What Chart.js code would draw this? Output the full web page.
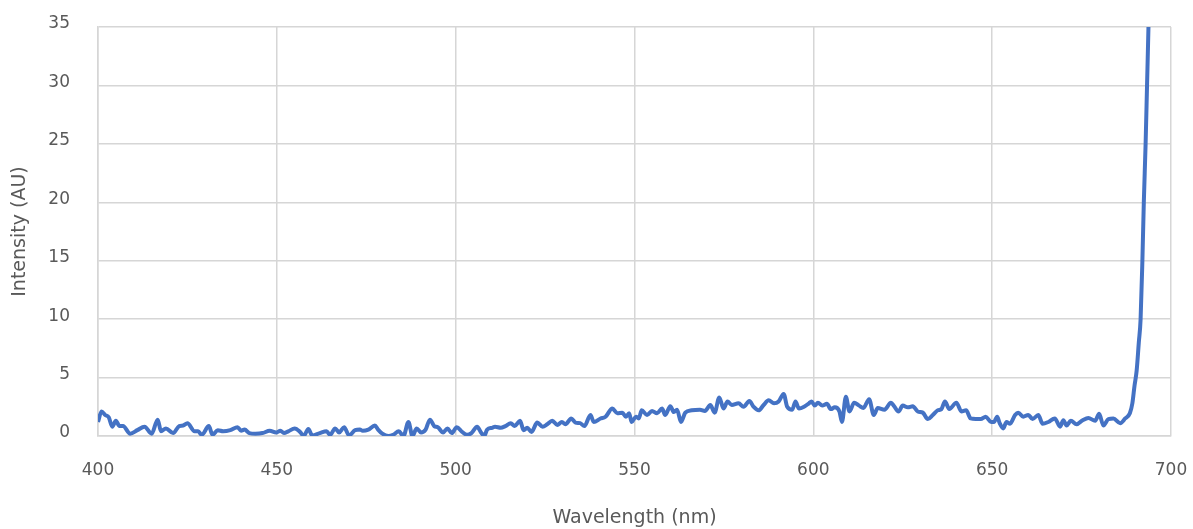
<!DOCTYPE html>
<html lang="en">
<head>
    <meta charset="UTF-8">
    <title>Intensity vs Wavelength</title>
    <script src="https://cdn.jsdelivr.net/npm/chart.js"></script>
    <style>
        html, body { margin: 0; padding: 0; background: #fff; }
        #wrap { width: 1193px; height: 529px; }
    </style>
</head>
<body>
<div id="wrap"><canvas id="chart" width="1193" height="529"></canvas></div>
<script>
// spectrum (nm / AU)
const wavelengths = [
    400, 401, 402, 403, 404, 405, 406, 407, 409, 411, 413, 415, 416.7, 417.6, 419, 421, 422.7, 423.8, 425, 427, 428, 429, 431, 432, 433.5, 435, 437, 439, 440, 441, 442.3, 444, 446, 448, 449.8,
    451, 452, 453.2, 455, 456.5, 457.5, 458.8, 459.9, 462, 463.9, 464.9, 466.3, 467.4, 468.8, 470.2, 471.9, 473.2, 474, 475.6, 477.4, 478.3, 479.5, 481.2, 482.5, 484.1, 485.4, 486.8, 487.9, 489.1, 490.3, 491.6, 492.8, 494, 495, 496.5, 497.7, 498.9, 500.3,
    501.8, 503.2, 504.4, 506, 507, 508, 508.8, 510.2, 511, 512.6, 513.9, 515.4, 516.5, 518, 519, 520, 521.2, 522.8, 524.3, 525.6, 527, 528.4, 529.7, 530.7, 532.3, 533.5, 534.8, 536, 537.7, 538.6, 540.5, 541.9, 543.8, 545.2, 546.6, 547.6, 548.5, 549.2, 550.4,
    551.2, 552, 553.5, 554.9, 556.3, 557.7, 558.6, 560, 561, 561.9, 563, 564.2, 566, 568.3, 569.7, 571.2, 572.4, 573.7, 574.9, 576, 577.2, 579.1, 580.5, 582.1, 583.3, 584.7, 586.1, 587.5, 589, 590.3, 591.7, 592.7, 594.1, 595, 596, 597.4, 598.8, 599.5,
    600.4, 601.3, 602.5, 603.8, 604.9, 606, 607.3, 608, 609.1, 610.1, 611.4, 612.8, 614, 615.6, 616.9, 618, 619.9, 621.7, 622.6, 623.8, 625, 626.4, 627.8, 629.2, 630.6, 632, 633.4, 634.8, 635.8, 636.8, 638, 640, 641.4, 642.7, 644, 645.4, 646.8, 648.2, 649.7,
    650.5, 651.4, 652.1, 653.1, 654, 655, 656.4, 657.3, 658.7, 660.1, 661.3, 662.9, 664.1, 665.7, 667.5, 669, 669.9, 670.8, 672, 673.6, 675.3, 676.9, 678.8, 679.9, 681.1, 682.5, 683.9, 685.8, 687.2, 688.5, 689.2, 689.8, 690.4, 691, 691.5, 692, 692.4, 692.9, 693.3, 693.7, 694.2, 695
];
const intensity = [
    1.2, 2.1, 1.8, 1.6, 0.8, 1.3, 0.85, 0.85, 0.2, 0.5, 0.8, 0.2, 1.4, 0.4, 0.65, 0.25, 0.85, 0.9, 1.1, 0.4, 0.4, 0.1, 0.85, 0.1, 0.5, 0.4, 0.5, 0.75, 0.45, 0.55, 0.25, 0.2, 0.25, 0.45, 0.3,
    0.45, 0.25, 0.4, 0.65, 0.35, 0.0, 0.6, 0.05, 0.25, 0.4, 0.1, 0.65, 0.3, 0.75, 0.05, 0.5, 0.55, 0.45, 0.55, 0.9, 0.55, 0.2, 0.0, 0.1, 0.4, 0.0, 1.2, 0.0, 0.65, 0.3, 0.55, 1.4, 0.85, 0.75, 0.3, 0.65, 0.25, 0.75,
    0.35, 0.1, 0.25, 0.8, 0.35, 0.0, 0.55, 0.7, 0.8, 0.7, 0.85, 1.1, 0.85, 1.3, 0.5, 0.7, 0.35, 1.15, 0.8, 1.0, 1.3, 0.95, 1.2, 1.0, 1.5, 1.15, 1.1, 0.85, 1.8, 1.2, 1.5, 1.65, 2.35, 1.95, 2.0, 1.65, 1.95, 1.2, 1.65,
    1.5, 2.2, 1.8, 2.15, 1.95, 2.35, 1.8, 2.55, 2.05, 2.25, 1.2, 2.0, 2.2, 2.25, 2.15, 2.65, 2.0, 3.3, 2.35, 2.95, 2.65, 2.8, 2.5, 3.0, 2.5, 2.2, 2.65, 3.05, 2.8, 2.95, 3.6, 2.5, 2.25, 2.95, 2.35, 2.5, 2.8, 2.95,
    2.6, 2.85, 2.6, 2.75, 2.3, 2.45, 2.1, 1.2, 3.35, 2.1, 2.85, 2.6, 2.4, 3.15, 1.8, 2.4, 2.25, 2.85, 2.55, 2.1, 2.6, 2.45, 2.55, 2.1, 2.0, 1.45, 1.8, 2.2, 2.3, 2.95, 2.3, 2.85, 2.1, 2.2, 1.5, 1.45, 1.45, 1.65, 1.2,
    1.2, 1.65, 1.1, 0.65, 1.2, 1.05, 1.8, 2.0, 1.65, 1.8, 1.45, 1.8, 1.05, 1.2, 1.5, 0.8, 1.35, 0.9, 1.3, 1.0, 1.35, 1.55, 1.3, 1.9, 0.9, 1.45, 1.5, 1.1, 1.5, 1.95, 2.8, 4.3, 5.6, 8, 10, 15, 20, 25, 30, 35, 42, 52
];
const xTicks = [400, 450, 500, 550, 600, 650, 700];
const yTicks = [0, 5, 10, 15, 20, 25, 30, 35];

const FONT = "'DejaVu Sans', sans-serif";
const TEXT = '#595959';
const GRID = '#d6d6d6';

const points = wavelengths.map((w, i) => ({ x: w, y: intensity[i] }));

const ctx = document.getElementById('chart').getContext('2d');
const chart = new Chart(ctx, {
    type: 'line',
    data: {
        datasets: [{
            label: 'Intensity',
            data: points,
            borderColor: '#4472C4',
            backgroundColor: '#4472C4',
            borderWidth: 4,
            pointRadius: 0,
            fill: false,
            cubicInterpolationMode: 'monotone'
        }]
    },
    options: {
        responsive: false,
        animation: false,
        devicePixelRatio: 1,
        layout: { padding: { top: 27, right: 22, left: 0, bottom: 0 } },
        plugins: {
            legend: { display: false },
            tooltip: { enabled: false }
        },
        scales: {
            x: {
                type: 'linear',
                min: 400,
                max: 700,
                afterBuildTicks: s => { s.ticks = xTicks.map(v => ({ value: v })); },
                // fixed box so the plot area lands where the original's does
                afterFit: s => { s.height = 93; s.paddingLeft = 0; s.paddingRight = 0; },
                grid: { color: GRID, lineWidth: 1.5, drawTicks: false },
                border: { color: GRID, width: 1.5 },
                ticks: { color: TEXT, padding: 24, maxRotation: 0, font: { family: FONT, size: 17 } },
                title: {
                    display: true,
                    text: 'Wavelength (nm)',
                    color: TEXT,
                    font: { family: FONT, size: 19 },
                    padding: { top: 0, bottom: 0 }
                }
            },
            y: {
                min: 0,
                max: 35,
                afterBuildTicks: s => { s.ticks = yTicks.map(v => ({ value: v })); },
                afterFit: s => { s.width = 98; s.paddingTop = 0; s.paddingBottom = 0; },
                grid: { color: GRID, lineWidth: 1.5, drawTicks: false },
                border: { color: GRID, width: 1.5 },
                ticks: { color: TEXT, padding: 28, labelOffset: -3, font: { family: FONT, size: 17 } },
                title: {
                    display: true,
                    text: 'Intensity (AU)',
                    color: TEXT,
                    font: { family: FONT, size: 19 },
                    padding: { top: 9, bottom: 0 }
                }
            }
        }
    }
});
</script>
</body>
</html>
